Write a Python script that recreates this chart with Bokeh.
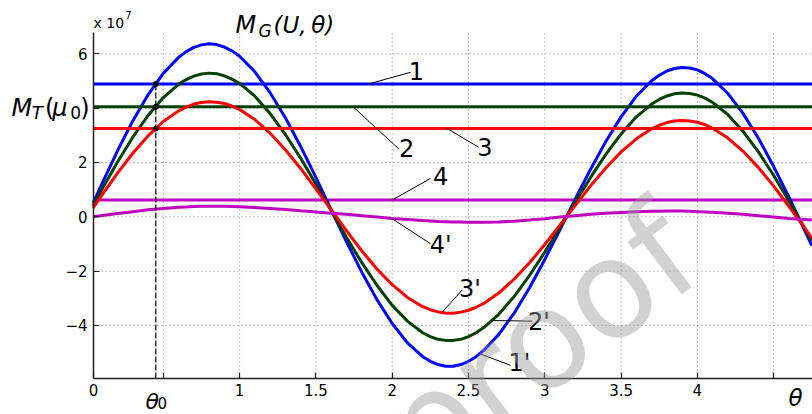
from bokeh.plotting import figure
from bokeh.models import ColumnDataSource, FixedTicker, Label
from bokeh.core.properties import value
from bokeh.embed import file_html
from bokeh.resources import INLINE

# ---------------- data (values in units of 1e7) ----------------
theta = [0.04, 0.1, 0.2, 0.3, 0.4, 0.5, 0.6, 0.65, 0.7, 0.75, 0.8, 0.85, 0.9, 0.95, 1.0,
         1.1, 1.2, 1.3, 1.4, 1.5, 1.6, 1.7, 1.8, 1.9, 2.0, 2.1, 2.2, 2.25, 2.3, 2.35, 2.4,
         2.45, 2.5, 2.55, 2.6, 2.7, 2.8, 2.9, 3.0, 3.1, 3.2, 3.3, 3.4, 3.5, 3.6, 3.7, 3.75,
         3.8, 3.85, 3.9, 3.95, 4.0, 4.05, 4.1, 4.2, 4.3, 4.4, 4.5, 4.6, 4.7, 4.75]

curve_1p = [0.50, 1.24, 2.43, 3.53, 4.49, 5.28, 5.87, 6.08, 6.24, 6.33, 6.37, 6.34, 6.25, 6.11,
            5.91, 5.34, 4.57, 3.65, 2.59, 1.45, 0.26, -0.91, -2.03, -3.05, -3.93, -4.64, -5.15,
            -5.32, -5.44, -5.50, -5.50, -5.44, -5.32, -5.15, -4.92, -4.32, -3.54, -2.61, -1.57,
            -0.47, 0.66, 1.75, 2.77, 3.68, 4.44, 5.01, 5.21, 5.37, 5.46, 5.50, 5.48, 5.41, 5.27,
            5.08, 4.54, 3.80, 2.89, 1.85, 0.72, -0.46, -1.06]
curve_2p = [0.41, 1.03, 2.02, 2.93, 3.73, 4.39, 4.88, 5.05, 5.18, 5.26, 5.29, 5.27, 5.19, 5.07,
            4.91, 4.44, 3.80, 3.03, 2.16, 1.21, 0.23, -0.75, -1.68, -2.52, -3.26, -3.84, -4.27,
            -4.41, -4.51, -4.55, -4.55, -4.51, -4.41, -4.27, -4.08, -3.58, -2.93, -2.16, -1.30,
            -0.39, 0.54, 1.45, 2.30, 3.05, 3.68, 4.15, 4.32, 4.45, 4.53, 4.56, 4.54, 4.48, 4.37,
            4.21, 3.76, 3.14, 2.39, 1.52, 0.58, -0.39, -0.89]
curve_3p = [0.33, 0.82, 1.61, 2.34, 2.98, 3.51, 3.90, 4.04, 4.15, 4.21, 4.24, 4.22, 4.17, 4.08,
            3.95, 3.58, 3.08, 2.47, 1.78, 1.03, 0.26, -0.51, -1.25, -1.92, -2.50, -2.97, -3.31,
            -3.42, -3.50, -3.54, -3.55, -3.51, -3.44, -3.33, -3.19, -2.80, -2.29, -1.69, -1.02,
            -0.30, 0.42, 1.14, 1.80, 2.39, 2.87, 3.24, 3.37, 3.47, 3.53, 3.55, 3.53, 3.48, 3.39,
            3.26, 2.90, 2.41, 1.81, 1.13, 0.38, -0.39, -0.78]
curve_4p = [0.00, 0.05, 0.12, 0.19, 0.26, 0.31, 0.35, 0.365, 0.38, 0.385, 0.39, 0.39, 0.39, 0.38,
            0.37, 0.34, 0.31, 0.27, 0.22, 0.18, 0.13, 0.09, 0.04, -0.01, -0.06, -0.10, -0.14,
            -0.155, -0.17, -0.18, -0.19, -0.195, -0.20, -0.20, -0.20, -0.19, -0.16, -0.12, -0.07,
            -0.01, 0.04, 0.09, 0.13, 0.16, 0.19, 0.20, 0.205, 0.21, 0.21, 0.21, 0.20, 0.19, 0.18,
            0.17, 0.13, 0.09, 0.04, -0.01, -0.06, -0.10, -0.12]

line_levels = [4.89, 4.05, 3.25, 0.62]          # M_T(mu0) levels 1, 2, 3, 4
theta0 = 0.451

x_ticks = [0.043, 0.5, 1.0, 1.5, 2.0, 2.5, 3.0, 3.5, 4.0, 4.5]
x_tick_labels = ["0", "", "1", "1.5", "2", "2.5", "3", "3.5", "4", ""]
x_grid = [0.5, 1.0, 1.5, 2.0, 2.5, 3.0, 3.5, 4.0, 4.5]
y_ticks = [-4, -2, 0, 2, 4, 6]
y_tick_labels = ["\u22124", "\u22122", "0", "2", "", "6"]

label_text = ["1", "2", "3", "4", "4'", "3'", "2'", "1'"]
label_x = [2.159, 2.094, 2.608, 2.317, 2.317, 2.510, 2.962, 2.834]
label_y = [5.35, 2.55, 2.57, 1.52, -1.02, -2.64, -3.87, -5.40]
leader_x0 = [1.845, 1.744, 2.360, 2.000, 2.000, 2.328, 2.655, 2.579]
leader_y0 = [4.89, 4.05, 3.25, 0.62, -0.07, -3.51, -3.82, -5.05]
leader_x1 = [2.120, 2.043, 2.567, 2.251, 2.251, 2.459, 2.917, 2.775]
leader_y1 = [5.32, 2.50, 2.56, 1.41, -0.99, -2.69, -3.84, -5.47]

# ---------------- styles ----------------
BLUE, GREEN, RED, MAG = "#0000ff", "#004000", "#ff0000", "#bf00bf"
FONT = "DejaVu Sans"

# plotting area (axes box) and the full canvas in data units
X0, X1 = 0.0426, 4.754
Y0, Y1 = -5.95, 6.786
XL, XR = -0.5668, 4.7543
YB, YT = -7.279, 7.964

p = figure(width=812, height=414, x_range=(XL, XR), y_range=(YB, YT),
           output_backend="svg", toolbar_location=None, min_border=0)
p.outline_line_color = None
p.background_fill_color = "white"
p.border_fill_color = "white"
p.xgrid.visible = False
p.ygrid.visible = False

# axes drawn at the edges of the axes box
p.xaxis.fixed_location = Y0
p.yaxis.fixed_location = X0
p.xaxis.bounds = (X0, X1)
p.yaxis.bounds = (Y0, Y1)
p.xaxis.ticker = FixedTicker(ticks=x_ticks)
p.xaxis.major_label_overrides = {t: s for t, s in zip(x_ticks, x_tick_labels)}
p.yaxis.ticker = FixedTicker(ticks=y_ticks)
p.yaxis.major_label_overrides = {t: s for t, s in zip(y_ticks, y_tick_labels)}
for ax in (p.xaxis, p.yaxis):
    ax.axis_line_color = "#222222"
    ax.axis_line_width = 1.5
    ax.major_tick_line_color = "#222222"
    ax.major_tick_line_width = 1.2
    ax.major_tick_in = 6
    ax.major_tick_out = 0
    ax.minor_tick_line_color = None
    ax.major_label_text_font = FONT
    ax.major_label_text_font_size = "15px"
    ax.major_label_text_color = "black"
p.xaxis.major_label_standoff = 6
p.yaxis.major_label_standoff = 6

# dotted grid inside the axes box
GRID = dict(line_color="#888888", line_width=1, line_dash="1 3")
p.segment(x0=x_grid, y0=[Y0] * len(x_grid), x1=x_grid, y1=[Y1] * len(x_grid), **GRID)
p.segment(x0=[X0] * len(y_ticks), y0=y_ticks, x1=[X1] * len(y_ticks), y1=y_ticks, **GRID)

# lines and curves
def hline(level, color):
    p.segment(x0=[X0], y0=[level], x1=[X1], y1=[level], line_color=color, line_width=3)

hline(line_levels[3], MAG)
p.line(theta, curve_1p, line_color=BLUE, line_width=3)
hline(line_levels[0], BLUE)
p.line(theta, curve_2p, line_color=GREEN, line_width=3)
hline(line_levels[1], GREEN)
p.line(theta, curve_3p, line_color=RED, line_width=3)
hline(line_levels[2], RED)
p.line(theta, curve_4p, line_color=MAG, line_width=3)

# theta0 marker line and intersection dots
p.segment(x0=[theta0], y0=[Y0], x1=[theta0], y1=[line_levels[0]],
          line_color="black", line_width=1.2, line_dash="6 2")
p.scatter(x=[theta0] * 3, y=line_levels[:3], size=5, color="black")

# leader lines and curve labels
src = ColumnDataSource(dict(x0=leader_x0, y0=leader_y0, x1=leader_x1, y1=leader_y1,
                            lx=label_x, ly=label_y, t=label_text))
p.segment(x0="x0", y0="y0", x1="x1", y1="y1", source=src, line_color="black", line_width=1)
p.text(x="lx", y="ly", text="t", source=src, text_font=value(FONT), text_font_size="24px",
       text_align="center", text_baseline="middle", text_color="black")

# math-like texts around the axes box
def lab(x, y, text, size, style="normal", align="left"):
    p.add_layout(Label(x=x, y=y, text=text, text_font=FONT, text_font_size=size,
                       text_font_style=style, text_color="black", text_align=align,
                       text_baseline="alphabetic"))

# x 10^7
lab(0.043, 7.12, "x 10", "14px")
lab(0.250, 7.42, "7", "10px")
# M_G(U, theta)
lab(0.973, 7.05, "M", "24px", "italic")
lab(1.124, 6.84, "G", "17px", "italic")
lab(1.222, 7.05, "(U,\u2009\u03b8)", "23px", "italic")
# M_T(mu0)
lab(-0.495, 4.00, "M", "24px", "italic")
lab(-0.362, 3.84, "T", "18px", "italic")
lab(-0.275, 4.00, "(", "24px")
lab(-0.228, 4.00, "\u03bc", "24px", "italic")
lab(-0.110, 3.84, "0", "17px")
lab(-0.045, 4.00, ")", "24px")
# theta0 and theta
lab(0.383, -6.80, "\u03b8", "22px", "italic")
lab(0.462, -6.86, "0", "15px")
lab(4.597, -6.68, "\u03b8", "23px", "italic")

# proof watermark
p.add_layout(Label(x=2.959, y=-4.66, text="proof", text_font=FONT, text_font_size="136px",
                   text_color="#999999", text_alpha=0.45, angle=0.646,
                   text_align="center", text_baseline="middle"))

open("out.html", "w").write(file_html(p, INLINE))
